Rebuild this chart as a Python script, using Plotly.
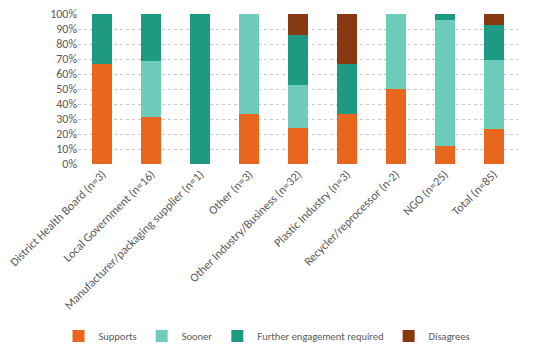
import plotly.graph_objects as go

categories = [
    "District Health Board (n=3)",
    "Local Government (n=16)",
    "Manufacturer/packaging supplier (n=1)",
    "Other (n=3)",
    "Other Industry/Business (n=32)",
    "Plastic Industry (n=3)",
    "Recycler/reprocessor (n-2)",
    "NGO (n=25)",
    "Total (n=85)",
]
supports = [66.7, 31.25, 0, 33.3, 24.0, 33.3, 50.0, 12.0, 23.5]
sooner = [0, 37.5, 0, 66.7, 29.0, 0, 50.0, 84.0, 45.9]
further = [33.3, 31.25, 100.0, 0, 33.0, 33.4, 0, 4.0, 23.5]
disagrees = [0, 0, 0, 0, 14.0, 33.3, 0, 0, 7.1]
y_ticks = list(range(0, 101, 10))
y_tick_labels = [f"{v}%" for v in y_ticks]

series = [
    ("Supports", supports, "#E9661F"),
    ("Sooner", sooner, "#6DCDBA"),
    ("Further engagement required", further, "#1E9A82"),
    ("Disagrees", disagrees, "#873A12"),
]

FONT = "Carlito, Liberation Sans Narrow, Liberation Sans"

fig = go.Figure()
for name, vals, col in series:
    fig.add_trace(go.Bar(x=categories, y=vals, name=name, marker=dict(color=col, line=dict(width=0)),
                         hoverinfo="skip"))

fig.update_layout(
    barmode="stack",
    bargap=0.59,
    width=534,
    height=357,
    margin=dict(l=78, r=16, t=14, b=193, autoexpand=False),
    plot_bgcolor="white",
    paper_bgcolor="white",
    font=dict(family=FONT, size=12, color="#595959"),
    showlegend=True,
    hovermode=False,
    legend=dict(orientation="h", xref="container", x=0.5, xanchor="center",
                yref="container", y=0.059, yanchor="middle",
                font=dict(size=10.5, color="#595959"), traceorder="normal",
                itemwidth=30, tracegroupgap=0),
    yaxis=dict(range=[0, 100], tickvals=y_ticks, ticktext=y_tick_labels,
               showgrid=True, gridcolor="#C8C8C8", griddash="dot", gridwidth=1,
               zeroline=False, showline=False, ticks="", tickfont=dict(size=12, color="#595959")),
    xaxis=dict(tickangle=-45, showline=False, ticks="", tickfont=dict(size=12, color="#595959"),
               automargin=False),
)

fig.write_html("out.html", config={"displayModeBar": False, "staticPlot": True},
               post_script="document.body.style.margin='0';")
